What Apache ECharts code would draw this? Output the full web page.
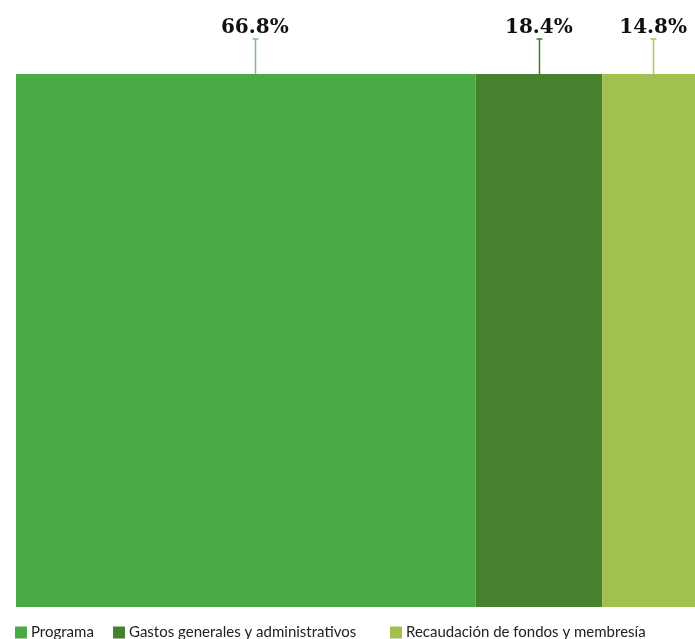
<!DOCTYPE html>
<html>
<head>
<meta charset="utf-8">
<script src="https://cdn.jsdelivr.net/npm/echarts@6/dist/echarts.min.js"></script>
<style>
  html, body { margin: 0; padding: 0; background: #fff; overflow: hidden; }
  /* el gráfico original se sale un poco por la derecha */
  #chart { width: 704px; height: 639px; }
</style>
</head>
<body>
<div id="chart"></div>
<script>
// datos del gráfico
const categorias = ['Programa', 'Gastos generales y administrativos', 'Recaudación de fondos y membresía']
const valores = [66.8, 18.4, 14.8]
const colores = ['#4aaa45', '#46822e', '#a1c050']
const coloresLinea = ['#7cc47a', '#3f7f2a', '#a9c85a']

const chart = echarts.init(document.getElementById('chart'))

// series apiladas, una por segmento
const barras = categorias.map((nombre, i) => ({
  name: nombre,
  type: 'bar',
  stack: 'total',
  barWidth: '100%',
  data: [valores[i]],
  itemStyle: { color: colores[i] },
  label: {
    show: true,
    position: 'top',
    distance: 36,
    offset: [i === 0 ? 9 : 0, 0],
    formatter: (p) => p.value.toFixed(1) + '%',
    fontFamily: 'DejaVu Serif',
    fontWeight: 'bold',
    fontSize: 20,
    color: '#111'
  }
}))

// líneas guía desde cada etiqueta hasta la barra
const guias = valores.map((v, i) => {
  const ini = valores.slice(0, i).reduce((a, b) => a + b, 0)
  return [ini, ini + v, i]
})

const lineas = {
  type: 'custom',
  silent: true,
  data: guias,
  renderItem: (params, api) => {
    const i = api.value(2)
    const medio = (api.value(0) + api.value(1)) / 2
    const base = api.coord([medio, 0])
    const alto = api.size([0, 1])[1]
    const x = Math.round(base[0]) + 0.5 + (i === 0 ? 9 : 0)
    const yBar = base[1] - alto / 2
    const yTop = yBar - 35
    const st = { stroke: coloresLinea[i], lineWidth: 1.5 }
    return {
      type: 'group',
      children: [
        { type: 'line', shape: { x1: x, y1: yTop, x2: x, y2: yBar }, style: st },
        { type: 'line', shape: { x1: x - 3, y1: yTop, x2: x + 3, y2: yTop }, style: st }
      ]
    }
  },
  z: 1
}

const leyenda = (i, izq) => ({
  data: [categorias[i]],
  left: izq,
  top: 625,
  padding: 0,
  icon: 'rect',
  itemWidth: 12,
  itemHeight: 12,
  itemGap: 5,
  selectedMode: false,
  textStyle: { fontFamily: 'Lato', fontSize: 15, color: '#222', padding: [2, 0, 0, -1] }
})

const option = {
  animation: false,
  grid: { left: 16, right: 0, top: 74, bottom: 32, containLabel: false },
  legend: [leyenda(0, 15), leyenda(1, 113), leyenda(2, 390)],
  xAxis: { type: 'value', min: 0, max: 100, show: false },
  yAxis: { type: 'category', data: [''], show: false },
  series: [...barras, lineas]
}

chart.setOption(option)
</script>
</body>
</html>
